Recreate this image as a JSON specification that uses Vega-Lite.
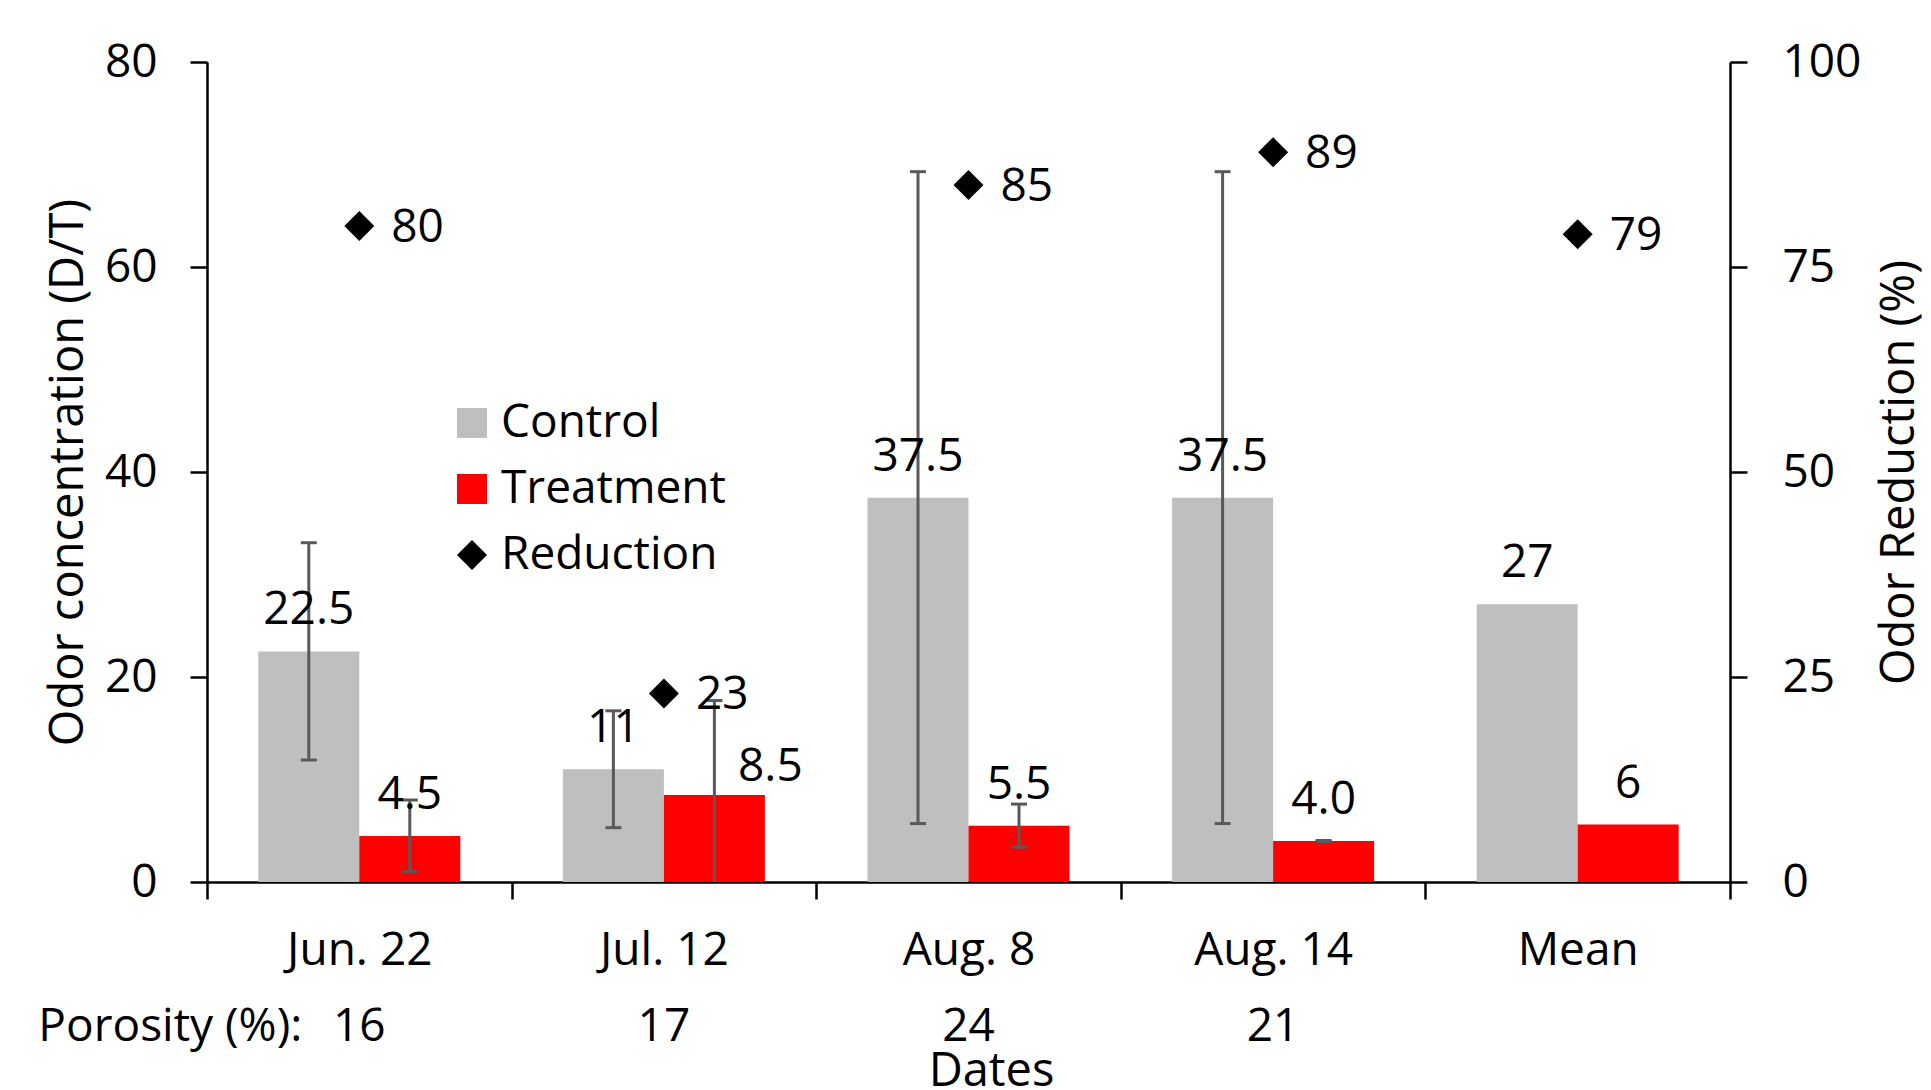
{
  "$schema": "https://vega.github.io/schema/vega-lite/v6.json",
  "width": 1523,
  "height": 820,
  "autosize": {"type": "none"},
  "padding": {"left": 207, "top": 62, "right": 201, "bottom": 208},
  "background": "white",
  "config": {
    "font": "Open Sans",
    "view": {"stroke": null},
    "axis": {
      "labelFont": "Open Sans", "titleFont": "Open Sans",
      "labelFontSize": 46, "titleFontSize": 47,
      "labelColor": "black", "titleColor": "black", "titleFontWeight": "normal",
      "domainColor": "black", "tickColor": "black",
      "domainWidth": 2.5, "tickWidth": 2.5, "tickSize": 17, "grid": false
    },
    "legend": {
      "orient": "none", "legendX": 242, "legendY": 338, "padding": 0,
      "symbolSize": 900, "symbolStrokeWidth": 0, "symbolOpacity": 1,
      "labelFont": "Open Sans", "labelFontSize": 46, "labelColor": "black", "labelLimit": 0,
      "labelOffset": 6, "rowPadding": 20, "titlePadding": 0
    },
    "text": {"font": "Open Sans", "fontSize": 46, "color": "black"}
  },
  "datasets": {
    "bars": [
      {"date": "Jun. 22", "series": "Control", "value": 22.5, "label": "22.5", "lo": 11.9, "hi": 33.1},
      {"date": "Jun. 22", "series": "Treatment", "value": 4.5, "label": "4.5", "lo": 1.0, "hi": 8.0},
      {"date": "Jul. 12", "series": "Control", "value": 11, "label": "11", "lo": 5.3, "hi": 16.7},
      {"date": "Jul. 12", "series": "Treatment", "value": 8.5, "label": "8.5", "lo": -0.7, "hi": 17.7},
      {"date": "Aug. 8", "series": "Control", "value": 37.5, "label": "37.5", "lo": 5.7, "hi": 69.3},
      {"date": "Aug. 8", "series": "Treatment", "value": 5.5, "label": "5.5", "lo": 3.4, "hi": 7.6},
      {"date": "Aug. 14", "series": "Control", "value": 37.5, "label": "37.5", "lo": 5.7, "hi": 69.3},
      {"date": "Aug. 14", "series": "Treatment", "value": 4.0, "label": "4.0", "lo": 3.95, "hi": 4.05},
      {"date": "Mean", "series": "Control", "value": 27.1, "label": "27", "lo": null, "hi": null},
      {"date": "Mean", "series": "Treatment", "value": 5.6, "label": "6", "lo": null, "hi": null}
    ],
    "reduction": [
      {"date": "Jun. 22", "series": "Reduction", "reduction": 80, "porosity": "16"},
      {"date": "Jul. 12", "series": "Reduction", "reduction": 23, "porosity": "17"},
      {"date": "Aug. 8", "series": "Reduction", "reduction": 85, "porosity": "24"},
      {"date": "Aug. 14", "series": "Reduction", "reduction": 89, "porosity": "21"},
      {"date": "Mean", "series": "Reduction", "reduction": 79, "porosity": ""}
    ]
  },
  "encoding": {
    "x": {
      "field": "date", "type": "nominal",
      "sort": ["Jun. 22", "Jul. 12", "Aug. 8", "Aug. 14", "Mean"],
      "scale": {"paddingInner": 0, "paddingOuter": 0},
      "axis": {
        "title": "Dates", "labelAngle": 0, "tickBand": "extent", "labelPadding": 29,
        "titleX": 784, "titleY": 203, "titleBaseline": "alphabetic"
      }
    }
  },
  "layer": [
    {
      "layer": [
        {
          "data": {"name": "bars"},
          "mark": {"type": "bar"},
          "encoding": {
            "xOffset": {"field": "series", "scale": {"paddingInner": 0, "paddingOuter": 0.508}},
            "y": {
              "field": "value", "type": "quantitative", "title": "Odor concentration (D/T)",
              "scale": {"domain": [0, 80]},
              "axis": {
                "values": [0, 20, 40, 60, 80], "labelPadding": 33,
                "titleX": -125, "titleBaseline": "alphabetic", "titleAngle": -90
              }
            },
            "color": {
              "field": "series", "type": "nominal", "title": null,
              "scale": {"domain": ["Control", "Treatment", "Reduction"], "range": ["#bfbfbf", "#ff0000", "#000000"]}
            }
          }
        },
        {
          "data": {"name": "bars"},
          "transform": [{"filter": "isValid(datum.lo)"}],
          "mark": {"type": "rule", "color": "#595959", "strokeWidth": 3, "clip": true},
          "encoding": {
            "xOffset": {"field": "series"},
            "y": {"field": "lo", "type": "quantitative", "title": "Odor concentration (D/T)", "scale": {"domain": [0, 80]}},
            "y2": {"field": "hi"}
          }
        },
        {
          "data": {"name": "bars"},
          "transform": [{"filter": "isValid(datum.lo)"}, {"fold": ["lo", "hi"], "as": ["end", "ev"]}],
          "mark": {"type": "tick", "color": "#595959", "thickness": 3, "size": 16, "opacity": 1, "clip": true, "orient": "horizontal"},
          "encoding": {
            "xOffset": {"field": "series"},
            "y": {"field": "ev", "type": "quantitative", "title": "Odor concentration (D/T)", "scale": {"domain": [0, 80]}}
          }
        },
        {
          "data": {"name": "bars"},
          "transform": [{"filter": "!(datum.date == 'Jul. 12' && datum.series == 'Treatment')"}],
          "mark": {"type": "text", "baseline": "alphabetic", "dy": -27},
          "encoding": {
            "xOffset": {"field": "series"},
            "y": {"field": "value", "type": "quantitative", "title": "Odor concentration (D/T)", "scale": {"domain": [0, 80]}},
            "text": {"field": "label"}
          }
        },
        {
          "data": {"name": "bars"},
          "transform": [{"filter": "datum.date == 'Jul. 12' && datum.series == 'Treatment'"}],
          "mark": {"type": "text", "baseline": "alphabetic", "dy": -14, "dx": 56},
          "encoding": {
            "xOffset": {"field": "series"},
            "y": {"field": "value", "type": "quantitative", "title": "Odor concentration (D/T)", "scale": {"domain": [0, 80]}},
            "text": {"field": "label"}
          }
        },
        {
          "data": {"name": "reduction"},
          "transform": [{"filter": "datum.porosity != ''"}],
          "mark": {"type": "text", "baseline": "alphabetic", "clip": false},
          "encoding": {
            "y": {"datum": -15.5, "type": "quantitative", "scale": {"domain": [0, 80]}},
            "text": {"field": "porosity"}
          }
        },
        {
          "data": {"values": [{"caption": "Porosity (%):"}]},
          "mark": {"type": "text", "baseline": "alphabetic", "align": "right", "dx": -57, "clip": false},
          "encoding": {
            "x": {"datum": "Jun. 22", "type": "nominal"},
            "y": {"datum": -15.5, "type": "quantitative", "scale": {"domain": [0, 80]}},
            "text": {"field": "caption"}
          }
        }
      ]
    },
    {
      "data": {"name": "reduction"},
      "layer": [
        {
          "mark": {"type": "point", "filled": true, "size": 900, "opacity": 1, "strokeWidth": 0},
          "encoding": {
            "y": {
              "field": "reduction", "type": "quantitative", "title": "Odor Reduction (%)",
              "scale": {"domain": [0, 100]},
              "axis": {
                "orient": "right", "values": [0, 25, 50, 75, 100], "labelPadding": 35,
                "titleAngle": -90, "titleX": 183, "titleBaseline": "alphabetic"
              }
            },
            "color": {
              "field": "series", "type": "nominal", "title": null,
              "scale": {"domain": ["Control", "Treatment", "Reduction"], "range": ["#bfbfbf", "#ff0000", "#000000"]}
            },
            "shape": {
              "field": "series", "type": "nominal", "title": null,
              "scale": {"domain": ["Control", "Treatment", "Reduction"], "range": ["square", "square", "diamond"]}
            }
          }
        },
        {
          "mark": {"type": "text", "align": "left", "baseline": "middle", "dx": 32, "dy": 2},
          "encoding": {
            "y": {"field": "reduction", "type": "quantitative", "title": "Odor Reduction (%)", "scale": {"domain": [0, 100]}},
            "text": {"field": "reduction", "type": "quantitative"}
          }
        }
      ]
    }
  ],
  "resolve": {"scale": {"y": "independent"}}
}
